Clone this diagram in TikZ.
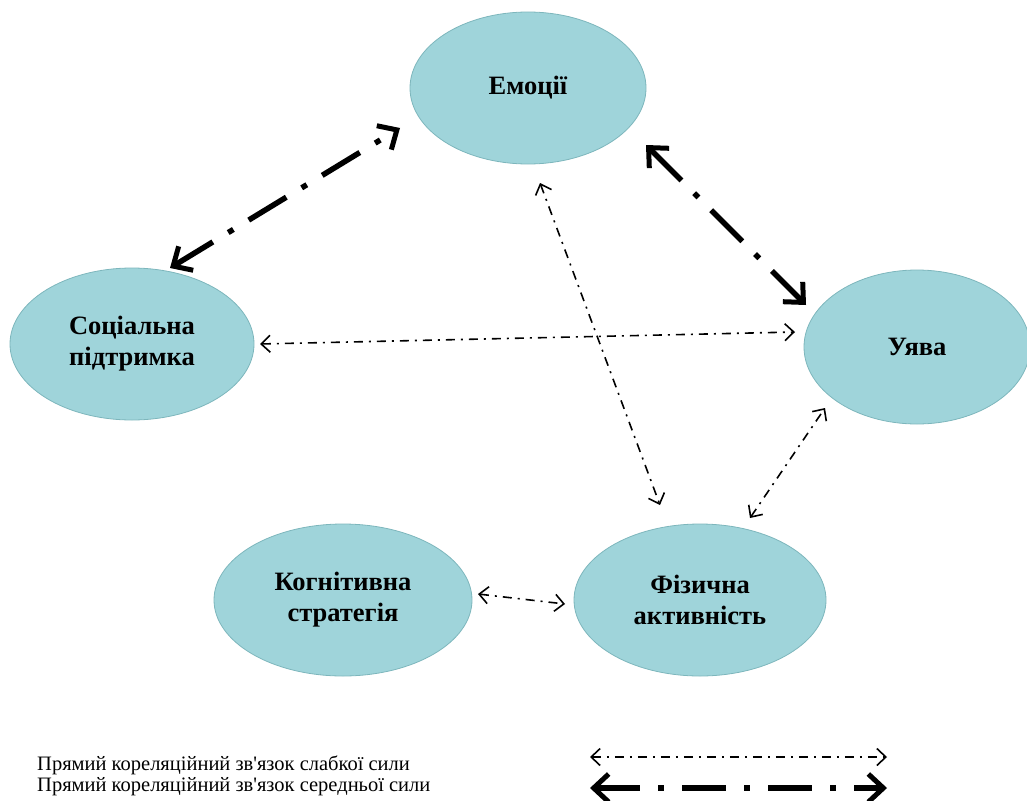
\documentclass[tikz,border=0pt]{standalone}
\usepackage{fontspec}
\setmainfont{Liberation Serif}[Ligatures=TeXOff]
\usetikzlibrary{arrows.meta,shapes.geometric}
\definecolor{efill}{HTML}{9FD4DA}
\definecolor{edraw}{HTML}{7DB6BC}
\tikzset{
  ell/.style={ellipse, fill=efill, draw=edraw, line width=0.8pt, inner sep=0pt,
    font=\fontsize{26.5}{31}\selectfont\bfseries, align=center},
  weak/.style={line width=1.6pt, dash pattern=on 9pt off 6pt on 2pt off 6pt,
    {Straight Barb[length=9pt,width=17pt,line width=1.6pt]}-{Straight Barb[length=9pt,width=17pt,line width=1.6pt]}},
  medium/.style={line width=5.5pt, dash pattern=on 44pt off 18pt on 6pt off 18pt,
    {Straight Barb[length=15pt,width=28pt,line width=5pt]}-{Straight Barb[length=15pt,width=28pt,line width=5pt]}},
  legtext/.style={anchor=west, inner sep=0pt, font=\fontsize{20.5}{24}\selectfont}
}
\begin{document}
\begin{tikzpicture}[x=1pt,y=-1pt]
\useasboundingbox (0,0) rectangle (1027,800);
\node[ell, minimum width=236pt, minimum height=152pt] (emo) at (528,88) {Емоції};
\node[ell, minimum width=244pt, minimum height=152pt] (soc) at (132,344) {Соціальна\\підтримка};
\node[ell, minimum width=226pt, minimum height=154pt] (uya) at (917,347) {Уява};
\node[ell, minimum width=258pt, minimum height=152pt] (kog) at (343,600) {Когнітивна\\стратегія};
\node[ell, minimum width=252pt, minimum height=152pt] (fiz) at (700,600) {Фізична\\активність};

\coordinate (a1s) at (170,268);
\coordinate (a1e) at (400,128);
\coordinate (a2s) at (646,145);
\coordinate (a2e) at (806,305);
\coordinate (a3s) at (260,344);
\coordinate (a3e) at (795,332);
\coordinate (a4s) at (540,183);
\coordinate (a4e) at (660,505);
\coordinate (a5s) at (750,518);
\coordinate (a5e) at (825,408);
\coordinate (a6s) at (478,594);
\coordinate (a6e) at (565,604);

\draw[medium] (a1s) -- (a1e);
\draw[medium] (a2s) -- (a2e);
\draw[weak] (a3s) -- (a3e);
\draw[weak] (a4s) -- (a4e);
\draw[weak] (a5s) -- (a5e);
\draw[weak] (a6s) -- (a6e);

\node[legtext] (l1) at (37,765) {Прямий кореляційний зв'язок слабкої сили};
\node[legtext] (l2) at (37,787) {Прямий кореляційний зв'язок середньої сили};
\coordinate (w1) at (590,757);
\coordinate (w2) at (887,757);
\coordinate (m1) at (590,788);
\coordinate (m2) at (887,788);
\draw[weak] (w1) -- (w2);
\draw[medium] (m1) -- (m2);
\end{tikzpicture}
\end{document}
